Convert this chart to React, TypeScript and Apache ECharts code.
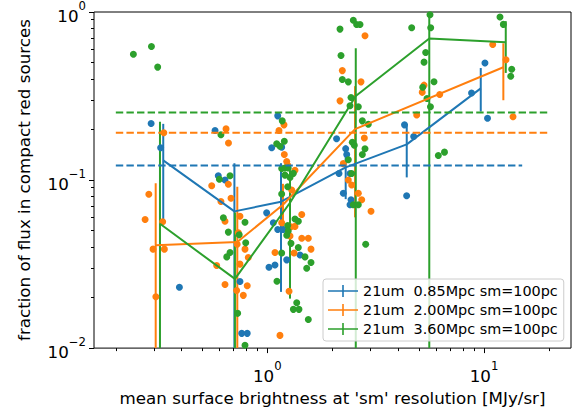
import React, { useEffect, useRef } from "react";
import * as echarts from "echarts";

const seriesNames = ["21um  0.85Mpc sm=100pc", "21um  2.00Mpc sm=100pc", "21um  3.60Mpc sm=100pc"];
const colors = ["#1f77b4", "#ff7f0e", "#2ca02c"];

// x range / ticks
const xMin = 0.1586;
const xMax = 25.2;
const xMajorTicks = [1, 10];
const xMinorTicks = [0.2, 0.3, 0.4, 0.5, 0.6, 0.7, 0.8, 0.9, 2, 3, 4, 5, 6, 7, 8, 9, 20];
const yMajorTicks = [0.01, 0.1, 1];
const yMinorTicks = [0.02, 0.03, 0.04, 0.05, 0.06, 0.07, 0.08, 0.09, 0.2, 0.3, 0.4, 0.5, 0.6, 0.7, 0.8, 0.9];

// binned means with error bars (lo/hi = ends of the bar; 0.001 => below axis)
const blueMeanX = [0.331, 0.705, 1.157, 2.30, 4.40, 9.66];
const blueMeanY = [0.131, 0.0651, 0.0743, 0.119, 0.163, 0.351];
const blueErrLo = [0.0574, 0.001, 0.0216, 0.077, 0.1037, 0.2556];
const blueErrHi = [0.216, 0.126, 0.126, 0.161, 0.2156, 0.464];

const orangeMeanX = [0.3055, 0.727, 1.181, 2.54, 12.28];
const orangeMeanY = [0.0409, 0.0428, 0.0713, 0.201, 0.469];
const orangeErrLo = [0.001, 0.001, 0.052, 0.06, 0.2985];
const orangeErrHi = [0.0956, 0.0913, 0.095, 0.362, 0.651];

const greenMeanX = [0.3197, 0.709, 1.273, 2.56, 5.59, 12.6];
const greenMeanY = [0.0549, 0.0258, 0.0733, 0.316, 0.696, 0.660];
const greenErrLo = [0.001, 0.001, 0.0197, 0.001, 0.001, 0.434];
const greenErrHi = [0.2224, 0.064, 0.1146, 0.608, 1.45, 0.882];

// horizontal dashed reference levels
const blueLevel = 0.122;
const orangeLevel = 0.191;
const greenLevel = 0.252;
const blueLevelX = [0.2, 15];
const orangeLevelX = [0.2, 20];
const greenLevelX = [0.2, 20];

// individual points
const blueX = [0.291, 0.322, 0.393,
  0.574, 0.594, 0.638, 0.748, 0.762, 0.808,
  1.117, 1.048, 1.165, 0.993, 1.066, 1.117, 1.185, 1.018, 1.085, 1.229, 1.416,
  2.088, 2.30, 2.325, 2.142, 2.408, 2.242, 2.434, 2.408,
  4.297, 4.737, 4.395,
  10.10, 8.76, 10.38];
const blueY = [0.217, 0.1556, 0.0230,
  0.197, 0.106, 0.1, 0.0249, 0.01224, 0.01224,
  0.241, 0.1556, 0.157, 0.0638, 0.0557, 0.0508, 0.0508, 0.0303, 0.0312, 0.0335, 0.0358,
  0.176, 0.1535, 0.142, 0.1095, 0.1095, 0.0834, 0.0763, 0.0713,
  0.213, 0.1816, 0.0806,
  0.4966, 0.330, 0.2333];

const orangeX = [0.333, 0.284, 0.273, 0.297, 0.335, 0.306, 0.329,
  0.645, 0.662, 0.554, 0.661, 0.680, 0.611, 0.748, 0.638, 0.735, 0.817, 0.748, 0.584, 0.638, 0.808, 0.775, 0.722, 0.789, 0.726,
  1.194, 1.132, 1.198, 1.229, 1.242, 1.342, 1.296, 1.442, 1.165, 1.286, 1.342, 1.273, 1.442, 1.546, 1.591, 1.085, 1.329, 1.26, 1.144,
  2.823, 2.219, 2.707, 2.165, 2.804, 2.242, 2.365, 2.451, 2.63, 2.727, 3.01,
  5.287, 5.186, 6.245, 4.892,
  10.97, 12.63, 13.61];
const orangeY = [0.191, 0.0824, 0.0582, 0.0388, 0.0388, 0.0202, 0.0565,
  0.2016, 0.166, 0.0925, 0.0943, 0.078, 0.0746, 0.0609, 0.0569, 0.0486, 0.0346, 0.0316, 0.0310, 0.0239, 0.0235, 0.0206, 0.0220, 0.0388, 0.0415,
  0.213, 0.197, 0.142, 0.129, 0.1225, 0.1145, 0.0873, 0.0623, 0.0557, 0.0527, 0.053, 0.0464, 0.045, 0.045, 0.0388, 0.0371, 0.0368, 0.0218, 0.0119,
  0.7225, 0.448, 0.384, 0.296, 0.178, 0.1252, 0.1, 0.0934, 0.0834, 0.0763, 0.0652,
  0.367, 0.3326, 0.323, 0.244,
  0.641, 0.52, 0.238];

const greenX = [0.241, 0.292, 0.312,
  0.611, 0.673, 0.601, 0.627, 0.789, 0.661, 0.742, 0.795, 0.673, 0.650, 0.730, 0.789,
  1.172, 1.105, 1.198, 1.144, 1.165, 1.206, 1.249, 1.319, 1.273, 1.206, 1.165, 1.242, 1.342, 1.391, 1.242, 1.249, 1.229, 1.286, 1.39, 1.165, 1.493, 1.591, 1.52, 1.108, 1.367, 1.319, 1.40, 1.546,
  2.165, 2.494, 2.583, 2.678, 2.188, 2.219, 2.365, 2.434, 2.408, 2.63, 2.745, 2.925, 2.468, 2.521, 2.823, 2.745, 2.365, 2.451, 2.494, 2.63, 2.844,
  4.637, 5.675, 5.633, 5.38, 5.287, 5.878, 5.213, 5.455, 5.66, 6.154, 6.57,
  11.85, 12.28, 13.42, 13.28];
const greenY = [0.561, 0.623, 0.470,
  0.186, 0.106, 0.101, 0.0596, 0.0561, 0.0490, 0.0472, 0.0423, 0.0371, 0.0349, 0.0161, 0.0104,
  0.225, 0.1646, 0.170, 0.159, 0.117, 0.118, 0.118, 0.1096, 0.1037, 0.107, 0.0827, 0.0913, 0.0587, 0.0569, 0.0536, 0.0497, 0.0469, 0.0420, 0.0397, 0.0368, 0.0349, 0.0323, 0.0299, 0.025, 0.0186, 0.0170, 0.0170, 0.0148,
  0.791, 0.893, 0.842, 0.842, 0.551, 0.397, 0.384, 0.310, 0.2766, 0.273, 0.225, 0.215, 0.168, 0.161, 0.1535, 0.142, 0.132, 0.1095, 0.0713, 0.0713, 0.0415,
  0.806, 0.806, 0.964, 0.574, 0.503, 0.385, 0.357, 0.306, 0.273, 0.140, 0.1466,
  0.934, 0.844, 0.456, 0.415];

const powLabel = (v: number) => {
  const e = Math.round(Math.log10(v));
  return "{b|10}{s|" + (e < 0 ? "\u2212" + -e : String(e)) + "}";
};

const FONT = "DejaVu Sans";
const LABEL_SIZE = 16.7;
const tickRich = {
  b: { fontFamily: FONT, fontSize: LABEL_SIZE, color: "#000", lineHeight: 24, verticalAlign: "bottom" },
  s: { fontFamily: FONT, fontSize: 11.7, color: "#000", lineHeight: 12, verticalAlign: "top" },
};

function zip(a: number[], b: number[]) {
  return a.map((v, i) => [v, b[i]]);
}

function buildGroup(idx: number, px: number[], py: number[], mx: number[], my: number[], lo: number[], hi: number[], level: number, levelX: number[]) {
  const color = colors[idx];
  const name = seriesNames[idx];
  return [
    {
      type: "scatter",
      name: "pts" + idx,
      data: zip(px, py),
      symbolSize: 7,
      itemStyle: { color, opacity: 1 },
      silent: true,
    },
    {
      type: "custom",
      name,
      clip: true,
      data: mx.map((x, i) => [x, my[i], lo[i], hi[i]]),
      itemStyle: { color },
      renderItem: (params: any, api: any) => {
        const x = api.value(0);
        const a = api.coord([x, api.value(3)]);
        const b = api.coord([x, api.value(2)]);
        return {
          type: "line",
          shape: { x1: a[0], y1: a[1], x2: b[0], y2: b[1] },
          style: { stroke: color, lineWidth: 2 },
        };
      },
    },
    {
      type: "line",
      name,
      data: zip(mx, my),
      showSymbol: false,
      symbol: "none",
      lineStyle: { color, width: 2 },
      itemStyle: { color },
      silent: true,
    },
    {
      type: "line",
      name: "level" + idx,
      data: levelX.map((x) => [x, level]),
      showSymbol: false,
      symbol: "none",
      lineStyle: { color, width: 2, type: [7.4, 3.2] },
      itemStyle: { color },
      silent: true,
    },
  ];
}

export default function App() {
  const ref = useRef<HTMLDivElement>(null);
  useEffect(() => {
    if (!ref.current) return;
    const chart = echarts.init(ref.current, null, { renderer: "svg" });
    const icon = "path://M0,5.2H30V6.8H0Z M14.2,0H15.8V12H14.2Z";
    const option: any = {
      animation: false,
      backgroundColor: "#ffffff",
      textStyle: { fontFamily: FONT },
      grid: {
        left: 94, top: 10, width: 477, height: 340,
        show: true, borderColor: "#000", borderWidth: 1, backgroundColor: "transparent",
      },
      legend: {
        orient: "vertical",
        left: 323, top: 279,
        padding: [5, 6, 5, 5],
        itemGap: 5,
        itemWidth: 30, itemHeight: 12, itemTextGap: 11,
        backgroundColor: "rgba(255,255,255,0.8)",
        borderColor: "#cccccc", borderWidth: 1, borderRadius: 3,
        textStyle: { fontFamily: FONT, fontSize: 14.4, color: "#000", lineHeight: 14 },
        selectedMode: false,
        data: seriesNames.map((n) => ({ name: n, icon })),
      },
      xAxis: [
        {
          type: "log", logBase: 10, min: xMin, max: xMax, position: "bottom",
          name: "mean surface brightness at 'sm' resolution [MJy/sr]",
          nameLocation: "middle", nameGap: 40,
          nameTextStyle: { fontFamily: FONT, fontSize: LABEL_SIZE, color: "#000" },
          axisLine: { show: false },
          splitLine: { show: false },
          axisTick: { show: true, length: 5, lineStyle: { color: "#000", width: 1 }, customValues: xMajorTicks },
          axisLabel: { show: true, margin: 12, formatter: powLabel, rich: tickRich, customValues: xMajorTicks },
        },
        {
          type: "log", logBase: 10, min: xMin, max: xMax, position: "bottom",
          axisLine: { show: false }, splitLine: { show: false },
          axisLabel: { show: false },
          axisTick: { show: true, length: 3, lineStyle: { color: "#000", width: 1 }, customValues: xMinorTicks },
        },
      ],
      yAxis: [
        {
          type: "log", logBase: 10, min: 0.01, max: 1, position: "left",
          name: "fraction of flux in compact red sources",
          nameLocation: "middle", nameGap: 62,
          nameTextStyle: { fontFamily: FONT, fontSize: LABEL_SIZE, color: "#000" },
          axisLine: { show: false }, splitLine: { show: false },
          axisTick: { show: true, length: 5, lineStyle: { color: "#000", width: 1 }, customValues: yMajorTicks },
          axisLabel: { show: true, margin: 8, formatter: powLabel, rich: tickRich, customValues: yMajorTicks },
        },
        {
          type: "log", logBase: 10, min: 0.01, max: 1, position: "left",
          axisLine: { show: false }, splitLine: { show: false },
          axisLabel: { show: false },
          axisTick: { show: true, length: 3, lineStyle: { color: "#000", width: 1 }, customValues: yMinorTicks },
        },
      ],
      series: [
        ...buildGroup(0, blueX, blueY, blueMeanX, blueMeanY, blueErrLo, blueErrHi, blueLevel, blueLevelX),
        ...buildGroup(1, orangeX, orangeY, orangeMeanX, orangeMeanY, orangeErrLo, orangeErrHi, orangeLevel, orangeLevelX),
        ...buildGroup(2, greenX, greenY, greenMeanX, greenMeanY, greenErrLo, greenErrHi, greenLevel, greenLevelX),
      ],
    };
    chart.setOption(option);
    return () => chart.dispose();
  }, []);
  return (
    <div
      ref={ref}
      style={{ position: "fixed", left: 0, top: 0, width: 573, height: 411, background: "#fff" }}
    />
  );
}
